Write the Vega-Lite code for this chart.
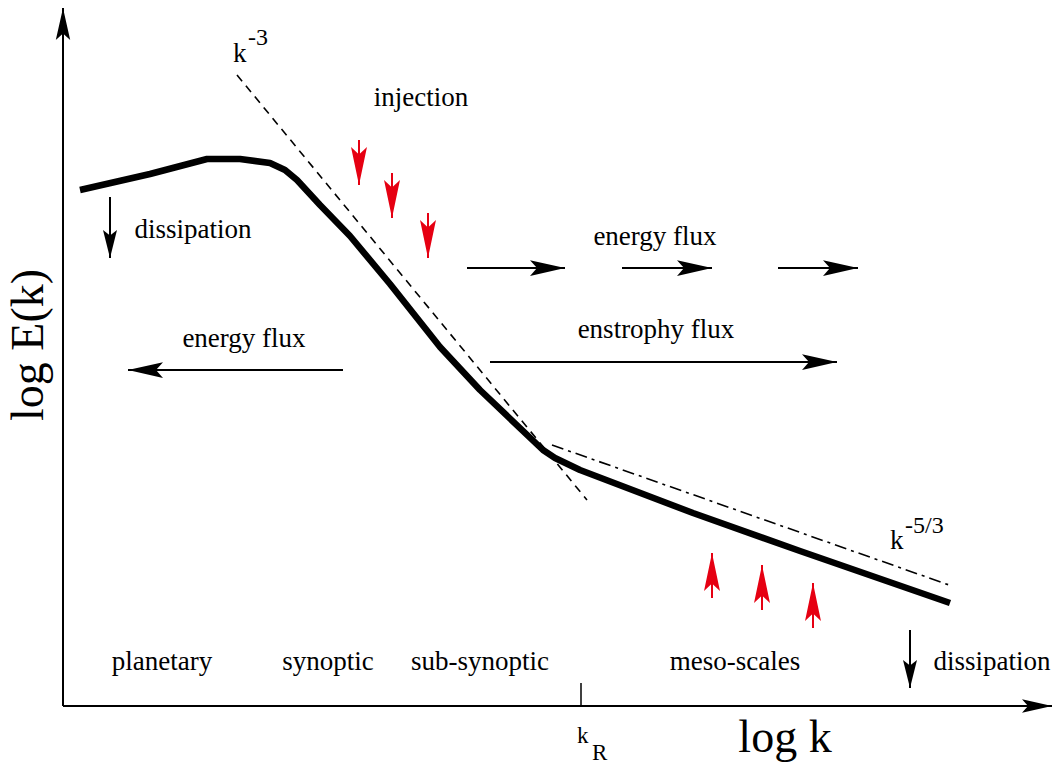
{
  "$schema": "https://vega.github.io/schema/vega-lite/v6.json",
  "description": "Schematic atmospheric kinetic energy spectrum: log E(k) against log k, with k^-3 and k^-5/3 ranges, fluxes, forcing and dissipation.",
  "width": 1055,
  "height": 765,
  "autosize": {"type": "fit", "contains": "padding"},
  "padding": 0,
  "background": "white",
  "config": {
    "view": {"stroke": null},
    "text": {"font": "Liberation Serif", "color": "black"}
  },
  "datasets": {
    "spectrum": [
      {"logk": 8.0, "logE": 57.5},
      {"logk": 15.0, "logE": 59.1},
      {"logk": 20.7, "logE": 60.6},
      {"logk": 24.0, "logE": 60.6},
      {"logk": 27.0, "logE": 60.2},
      {"logk": 28.5, "logE": 59.5},
      {"logk": 29.7, "logE": 58.5},
      {"logk": 32.0, "logE": 56.0},
      {"logk": 35.0, "logE": 52.9},
      {"logk": 39.0, "logE": 48.1},
      {"logk": 44.0, "logE": 41.8},
      {"logk": 48.0, "logE": 37.5},
      {"logk": 54.3, "logE": 31.5},
      {"logk": 55.5, "logE": 30.7},
      {"logk": 58.0, "logE": 29.5},
      {"logk": 69.3, "logE": 25.2},
      {"logk": 80.0, "logE": 21.4},
      {"logk": 95.0, "logE": 16.2}
    ],
    "powerlaws": [
      {"law": "k^-3", "logk": 23.7, "logE": 69.0, "logk2": 58.7, "logE2": 26.5},
      {"law": "k^-5/3", "logk": 55.2, "logE": 32.0, "logk2": 95.2, "logE2": 17.9}
    ],
    "ticks": [
      {"name": "kR", "logk": 58.1, "logE": 5.9, "logE2": 8.2}
    ],
    "arrows": [
      {"group": "axis", "dir": "up", "logk": 6.3, "logE": 75.7, "logk2": 6.3, "logE2": 5.9},
      {"group": "axis", "dir": "right", "logk": 105.2, "logE": 5.9, "logk2": 6.3, "logE2": 5.9},
      {"group": "flux", "dir": "right", "logk": 56.5, "logE": 49.7, "logk2": 46.7, "logE2": 49.7},
      {"group": "flux", "dir": "right", "logk": 71.2, "logE": 49.7, "logk2": 62.2, "logE2": 49.7},
      {"group": "flux", "dir": "right", "logk": 85.8, "logE": 49.7, "logk2": 77.8, "logE2": 49.7},
      {"group": "flux", "dir": "left", "logk": 12.8, "logE": 39.5, "logk2": 34.3, "logE2": 39.5},
      {"group": "flux", "dir": "right", "logk": 83.7, "logE": 40.3, "logk2": 49.0, "logE2": 40.3},
      {"group": "dissipation", "dir": "down", "logk": 11.0, "logE": 50.7, "logk2": 11.0, "logE2": 56.8},
      {"group": "dissipation", "dir": "down", "logk": 91.0, "logE": 7.7, "logk2": 91.0, "logE2": 13.5},
      {"group": "forcing", "dir": "down", "logk": 35.9, "logE": 58.0, "logk2": 35.9, "logE2": 62.5},
      {"group": "forcing", "dir": "down", "logk": 39.2, "logE": 54.7, "logk2": 39.2, "logE2": 59.2},
      {"group": "forcing", "dir": "down", "logk": 42.8, "logE": 50.7, "logk2": 42.8, "logE2": 55.2},
      {"group": "forcing", "dir": "up", "logk": 71.2, "logE": 21.2, "logk2": 71.2, "logE2": 16.7},
      {"group": "forcing", "dir": "up", "logk": 76.2, "logE": 20.0, "logk2": 76.2, "logE2": 15.5},
      {"group": "forcing", "dir": "up", "logk": 81.3, "logE": 18.2, "logk2": 81.3, "logE2": 13.7}
    ],
    "labels": [
      {"role": "note", "label": "injection", "logk": 42.1, "logE": 65.9},
      {"role": "note", "label": "dissipation", "logk": 19.3, "logE": 52.7},
      {"role": "note", "label": "energy flux", "logk": 65.5, "logE": 52.0},
      {"role": "note", "label": "energy flux", "logk": 24.4, "logE": 41.8},
      {"role": "note", "label": "enstrophy flux", "logk": 65.6, "logE": 42.7},
      {"role": "note", "label": "planetary", "logk": 16.2, "logE": 9.5},
      {"role": "note", "label": "synoptic", "logk": 32.8, "logE": 9.5},
      {"role": "note", "label": "sub-synoptic", "logk": 48.0, "logE": 9.5},
      {"role": "note", "label": "meso-scales", "logk": 73.5, "logE": 9.5},
      {"role": "note", "label": "dissipation", "logk": 99.2, "logE": 9.5},
      {"role": "symbol", "label": "k", "logk": 23.3, "logE": 70.3},
      {"role": "symbol", "label": "k", "logk": 89.0, "logE": 21.6},
      {"role": "sup", "label": "-3", "logk": 24.8, "logE": 72.0},
      {"role": "sup", "label": "-5/3", "logk": 90.5, "logE": 23.2},
      {"role": "index", "label": "k", "logk": 57.7, "logE": 2.2},
      {"role": "index", "label": "R", "logk": 59.2, "logE": 0.5},
      {"role": "xtitle", "label": "log k", "logk": 78.5, "logE": 1.3},
      {"role": "ytitle", "label": "log E(k)", "logk": 4.3, "logE": 42.0}
    ]
  },
  "encoding": {
    "x": {"field": "logk", "type": "quantitative", "scale": {"domain": [0, 105.5], "nice": false, "zero": false}, "axis": null},
    "y": {"field": "logE", "type": "quantitative", "scale": {"domain": [0, 76.5], "nice": false, "zero": false}, "axis": null}
  },
  "layer": [
    {
      "data": {"name": "powerlaws"},
      "mark": {"type": "rule", "strokeWidth": 1.6, "color": "black"},
      "encoding": {
        "x2": {"field": "logk2"},
        "y2": {"field": "logE2"},
        "strokeDash": {"field": "law", "type": "nominal", "scale": {"domain": ["k^-3", "k^-5/3"], "range": [[8, 6], [12, 5, 3, 5]]}, "legend": null}
      }
    },
    {
      "data": {"name": "spectrum"},
      "mark": {"type": "line", "color": "black", "strokeWidth": 6.5, "strokeCap": "butt", "strokeJoin": "round"},
      "encoding": {}
    },
    {
      "data": {"name": "ticks"},
      "mark": {"type": "rule", "color": "black", "strokeWidth": 1.5},
      "encoding": {"y2": {"field": "logE2"}}
    },
    {
      "data": {"name": "arrows"},
      "mark": {"type": "rule", "strokeWidth": 2},
      "encoding": {
        "x2": {"field": "logk2"},
        "y2": {"field": "logE2"},
        "color": {"field": "group", "type": "nominal", "scale": {"domain": ["axis", "flux", "forcing", "dissipation"], "range": ["black", "black", "#e60012", "black"]}, "legend": null}
      }
    },
    {
      "data": {"name": "arrows"},
      "layer": [
        {
          "transform": [{"filter": "datum.group === 'axis' && datum.dir === 'up'"}],
          "mark": {"type": "point", "shape": "M0,0L0.45,2L0,1.6L-0.45,2Z", "filled": true, "opacity": 1, "strokeWidth": 0, "color": "black", "size": 1024, "angle": 0}
        },
        {
          "transform": [{"filter": "datum.group === 'axis' && datum.dir === 'right'"}],
          "mark": {"type": "point", "shape": "M0,0L0.45,2L0,1.6L-0.45,2Z", "filled": true, "opacity": 1, "strokeWidth": 0, "color": "black", "size": 900, "angle": 90}
        },
        {
          "transform": [{"filter": "datum.group === 'flux' && datum.dir === 'right'"}],
          "mark": {"type": "point", "shape": "M0,0L0.45,2L0,1.6L-0.45,2Z", "filled": true, "opacity": 1, "strokeWidth": 0, "color": "black", "size": 1225, "angle": 90}
        },
        {
          "transform": [{"filter": "datum.group === 'flux' && datum.dir === 'left'"}],
          "mark": {"type": "point", "shape": "M0,0L0.45,2L0,1.6L-0.45,2Z", "filled": true, "opacity": 1, "strokeWidth": 0, "color": "black", "size": 1225, "angle": 270}
        },
        {
          "transform": [{"filter": "datum.group === 'dissipation'"}],
          "mark": {"type": "point", "shape": "M0,0L0.5,2L0,1.6L-0.5,2Z", "filled": true, "opacity": 1, "strokeWidth": 0, "color": "black", "size": 784, "angle": 180}
        },
        {
          "transform": [{"filter": "datum.group === 'forcing' && datum.dir === 'down'"}],
          "mark": {"type": "point", "shape": "M0,0L0.42,2L0,1.6L-0.42,2Z", "filled": true, "opacity": 1, "strokeWidth": 0, "color": "#e60012", "size": 1444, "angle": 180}
        },
        {
          "transform": [{"filter": "datum.group === 'forcing' && datum.dir === 'up'"}],
          "mark": {"type": "point", "shape": "M0,0L0.42,2L0,1.6L-0.42,2Z", "filled": true, "opacity": 1, "strokeWidth": 0, "color": "#e60012", "size": 1444, "angle": 0}
        }
      ]
    },
    {
      "data": {"name": "labels"},
      "transform": [{"filter": "datum.role === 'note'"}],
      "mark": {"type": "text", "fontSize": 27, "align": "center", "baseline": "alphabetic"},
      "encoding": {"text": {"field": "label"}}
    },
    {
      "data": {"name": "labels"},
      "transform": [{"filter": "datum.role === 'symbol'"}],
      "mark": {"type": "text", "fontSize": 27, "align": "left", "baseline": "alphabetic"},
      "encoding": {"text": {"field": "label"}}
    },
    {
      "data": {"name": "labels"},
      "transform": [{"filter": "datum.role === 'sup'"}],
      "mark": {"type": "text", "fontSize": 24, "align": "left", "baseline": "alphabetic"},
      "encoding": {"text": {"field": "label"}}
    },
    {
      "data": {"name": "labels"},
      "transform": [{"filter": "datum.role === 'index'"}],
      "mark": {"type": "text", "fontSize": 23, "align": "left", "baseline": "alphabetic"},
      "encoding": {"text": {"field": "label"}}
    },
    {
      "data": {"name": "labels"},
      "transform": [{"filter": "datum.role === 'xtitle'"}],
      "mark": {"type": "text", "fontSize": 46, "align": "center", "baseline": "alphabetic"},
      "encoding": {"text": {"field": "label"}}
    },
    {
      "data": {"name": "labels"},
      "transform": [{"filter": "datum.role === 'ytitle'"}],
      "mark": {"type": "text", "fontSize": 46, "align": "center", "baseline": "alphabetic", "angle": 270},
      "encoding": {"text": {"field": "label"}}
    }
  ]
}
